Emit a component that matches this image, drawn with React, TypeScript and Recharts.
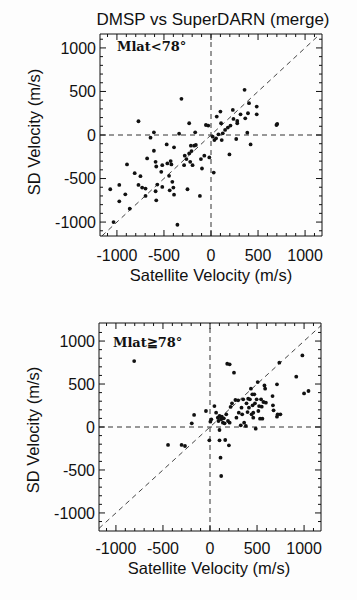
import { ScatterChart, Scatter, XAxis, YAxis, ReferenceLine } from "recharts";

// Mlat < 78 (upper panel)
const lowSat = [
  -1071, -1036, -975, -975, -911, -893, -864, -811, -771, -771, -750, -732, -696, -679, -696, -643, -607, -607,
  -589, -589, -582, -582, -571, -529, -518, -518, -471, -464, -446, -439, -429, -421, -411, -400, -393, -393,
  -357, -339, -314, -286, -279, -261, -250, -232, -232, -221, -214, -207, -196, -179, -168, -161, -118, -107,
  -96, -71, -54, -29, -18, 18, 29, 36, 54, 61, 79, 100, 107, 114, 125, 150, 179, 196, 207, 232, 239, 268, 279,
  279, 314, 357, 364, 386, 393, 404, 421, 486, 486, 696, 704,
];
const lowSD = [
  -623, -1000, -573, -762, -681, -338, -846, -438, 158, -573, -473, -604, -615, -269, -700, -31, 31, -181,
  -308, -646, -362, -750, -569, -423, -346, -596, -108, -327, -469, -635, -300, -338, -538, -604, -685, -142,
  -1031, 15, 415, -346, -238, -277, -623, 135, -212, -308, -123, -185, -346, -123, 31, -115, -700, -277,
  -385, -238, 115, 108, -258, -19, -431, -58, -38, 212, 8, 269, 135, -58, 19, 58, 85, -223, 108, 288, 185, -46, 162,
  135, 238, 519, 192, 27, 250, 365, -108, 327, 238, 115, 127,
];

// Mlat >= 78 (lower panel)
const highSat = [
  -806, -446, -302, -266, -194, -169, -43, -7, 4, 14, 47, 65, 83, 90, 101, 101, 101, 112, 119, 119, 126, 137,
  147, 155, 162, 173, 183, 191, 201, 209, 209, 219, 234, 255, 270, 281, 299, 306, 327, 335, 342, 353, 363, 381,
  388, 399, 406, 414, 424, 435, 442, 450, 453, 460, 460, 471, 478, 486, 496, 507, 514, 522, 532, 543, 550, 557,
  568, 579, 586, 594, 665, 669, 676, 712, 712, 719, 748, 737, 917, 982, 1000, 1047,
];
const highSD = [
  767, -209, -209, -221, 43, 140, 186, -155, 62, 89, 244, 167, 109, 70, 128, -35, -155, -357, -570, 89, 120, 50,
  101, 43, -151, 147, 736, 70, -213, 729, 50, 233, 275, 632, 314, 109, 310, 167, 19, 225, 147, 322, 50, 12,
  275, 174, 329, 225, 322, 446, 147, 380, 252, 167, 109, 380, 275, -19, 322, 523, 186, 244, 97, 322, 236, 97,
  291, 484, 446, 283, 360, 252, 194, 496, 120, 147, 147, 748, 585, 833, 391, 419,
];

const majorTicks = [-1000, -500, 0, 500, 1000];
const allTicks = [-1100, -1000, -900, -800, -700, -600, -500, -400, -300, -200, -100, 0, 100, 200, 300, 400, 500, 600, 700, 800, 900, 1000, 1100];

const FONT = '"Liberation Sans", Arial, Helvetica, sans-serif';
const INK = "#111";

const isMajor = (v: number) => majorTicks.includes(v);

function LeftTick({ x, y, payload, m }: any) {
  const len = isMajor(payload.value) ? 6 : 3;
  const ax = x + m;
  return (
    <g>
      <line x1={ax} y1={y} x2={ax + len} y2={y} stroke={INK} strokeWidth={1} />
      {isMajor(payload.value) && (
        <text x={x} y={y} dy="0.355em" textAnchor="end" fontSize={16} fontFamily={FONT} fill={INK}>
          {payload.value}
        </text>
      )}
    </g>
  );
}

function BottomTick({ x, y, payload, m }: any) {
  const len = isMajor(payload.value) ? 6 : 3;
  const ay = y - m;
  return (
    <g>
      <line x1={x} y1={ay} x2={x} y2={ay - len} stroke={INK} strokeWidth={1} />
      {isMajor(payload.value) && (
        <text x={x} y={y} dy="0.71em" textAnchor="middle" fontSize={16} fontFamily={FONT} fill={INK}>
          {payload.value}
        </text>
      )}
    </g>
  );
}

function TopTick({ x, y, payload }: any) {
  const len = isMajor(payload.value) ? 6 : 3;
  return <line x1={x} y1={y} x2={x} y2={y + len} stroke={INK} strokeWidth={1} />;
}

function RightTick({ x, y, payload }: any) {
  const len = isMajor(payload.value) ? 6 : 3;
  return <line x1={x} y1={y} x2={x - len} y2={y} stroke={INK} strokeWidth={1} />;
}

const Dot = (props: any) => <circle cx={props.cx} cy={props.cy} r={1.9} fill="#111" />;

function Panel({
  sat,
  sd,
  yLim,
  margin,
  xMargin,
}: {
  sat: number[];
  sd: number[];
  yLim: number;
  margin: { top: number; right: number; bottom: number; left: number };
  xMargin: number;
}) {
  const xLim = 1180;
  const pts = sat.map((v, i) => ({ sat: v, sd: sd[i] }));
  const d = Math.min(xLim, yLim);
  return (
    <ScatterChart width={357} height={300} margin={margin}>
      <XAxis
        xAxisId="b"
        dataKey="sat"
        type="number"
        domain={[-xLim, xLim]}
        ticks={allTicks}
        interval={0}
        height={30}
        tickSize={0}
        tickMargin={xMargin}
        tickLine={false}
        axisLine={{ stroke: INK }}
        tick={(p: any) => <BottomTick {...p} m={xMargin} />}
        allowDataOverflow
      />
      <XAxis
        xAxisId="t"
        dataKey="sat"
        orientation="top"
        type="number"
        domain={[-xLim, xLim]}
        ticks={allTicks}
        interval={0}
        height={1}
        tickSize={0}
        tickMargin={0}
        tickLine={false}
        axisLine={{ stroke: INK }}
        tick={(p: any) => <TopTick {...p} />}
        allowDataOverflow
      />
      <YAxis
        yAxisId="l"
        dataKey="sd"
        type="number"
        domain={[-yLim, yLim]}
        ticks={allTicks}
        interval={0}
        width={60}
        tickSize={0}
        tickMargin={4}
        tickLine={false}
        axisLine={{ stroke: INK }}
        tick={(p: any) => <LeftTick {...p} m={4} />}
        allowDataOverflow
      />
      <YAxis
        yAxisId="r"
        dataKey="sd"
        orientation="right"
        type="number"
        domain={[-yLim, yLim]}
        ticks={allTicks}
        interval={0}
        width={1}
        tickSize={0}
        tickMargin={0}
        tickLine={false}
        axisLine={{ stroke: INK }}
        tick={(p: any) => <RightTick {...p} />}
        allowDataOverflow
      />
      <ReferenceLine xAxisId="b" yAxisId="l" x={0} stroke="#333" strokeDasharray="5 4" />
      <ReferenceLine xAxisId="b" yAxisId="l" y={0} stroke="#333" strokeDasharray="5 4" />
      <ReferenceLine
        xAxisId="b"
        yAxisId="l"
        segment={[
          { x: -d, y: -d },
          { x: d, y: d },
        ]}
        stroke="#444"
        strokeDasharray="5 4"
      />
      <Scatter xAxisId="t" yAxisId="r" data={pts} shape={() => <g />} isAnimationActive={false} />
      <Scatter xAxisId="b" yAxisId="l" data={pts} shape={Dot} isAnimationActive={false} />
    </ScatterChart>
  );
}

const textStyle: React.CSSProperties = {
  position: "absolute",
  fontFamily: FONT,
  color: INK,
  whiteSpace: "nowrap",
  transform: "translate(-50%, -50%)",
};

const tagStyle: React.CSSProperties = {
  position: "absolute",
  fontFamily: '"DejaVu Serif", "Liberation Serif", serif',
  fontWeight: "bold",
  fontSize: 13,
  color: INK,
  whiteSpace: "nowrap",
  transform: "translateY(-50%)",
};

export default function App() {
  return (
    <div style={{ position: "absolute", left: 0, top: 0, width: 357, height: 600, background: "#fdfdfd", overflow: "hidden" }}>
      <div style={{ position: "absolute", left: 0, top: 0 }}>
        <Panel sat={lowSat} sd={lowSD} yLim={1160} margin={{ top: 33, right: 34, bottom: 34, left: 40 }} xMargin={14} />
      </div>
      <div style={{ position: "absolute", left: 0, top: 300 }}>
        <Panel sat={highSat} sd={highSD} yLim={1210} margin={{ top: 22, right: 35, bottom: 39, left: 39 }} xMargin={12} />
      </div>

      <div style={{ ...textStyle, left: 213, top: 20, fontSize: 17 }}>DMSP vs SuperDARN (merge)</div>

      <div style={{ ...tagStyle, left: 117, top: 46 }}>Mlat&lt;78°</div>
      <div style={{ ...tagStyle, left: 113, top: 342 }}>Mlat≧78°</div>

      <div style={{ ...textStyle, left: 34, top: 132, fontSize: 16.5, transform: "translate(-50%, -50%) rotate(-90deg)" }}>
        SD Velocity (m/s)
      </div>
      <div style={{ ...textStyle, left: 211, top: 275, fontSize: 16.5 }}>Satellite Velocity (m/s)</div>

      <div style={{ ...textStyle, left: 33, top: 430, fontSize: 16.5, transform: "translate(-50%, -50%) rotate(-90deg)" }}>
        SD Velocity (m/s)
      </div>
      <div style={{ ...textStyle, left: 209, top: 568, fontSize: 16.5 }}>Satellite Velocity (m/s)</div>
    </div>
  );
}
